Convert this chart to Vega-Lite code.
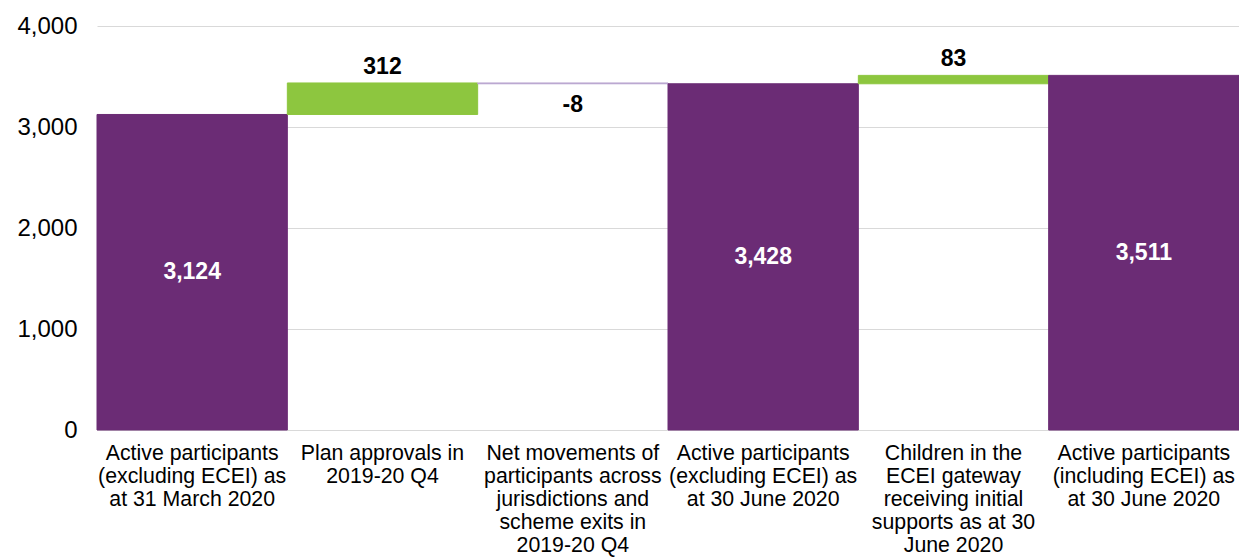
{
  "$schema": "https://vega.github.io/schema/vega-lite/v6.json",
  "autosize": "none",
  "width": 1142,
  "height": 404,
  "padding": {"left": 97, "top": 26, "right": 0, "bottom": 130},
  "background": "white",
  "config": {"view": {"stroke": null}, "font": "Liberation Sans"},
  "data": {"values": [
    {"cat": "Active participants|(excluding ECEI) as|at 31 March 2020", "start": 0, "end": 3124, "value": 3124, "type": "total"},
    {"cat": "Plan approvals in|2019-20 Q4", "start": 3124, "end": 3436, "value": 312, "type": "increase"},
    {"cat": "Net movements of|participants across|jurisdictions and|scheme exits in|2019-20 Q4", "start": 3436, "end": 3428, "value": -8, "type": "decrease"},
    {"cat": "Active participants|(excluding ECEI) as|at 30 June 2020", "start": 0, "end": 3428, "value": 3428, "type": "total"},
    {"cat": "Children in the|ECEI gateway|receiving initial|supports as at 30|June 2020", "start": 3428, "end": 3511, "value": 83, "type": "increase"},
    {"cat": "Active participants|(including ECEI) as|at 30 June 2020", "start": 0, "end": 3511, "value": 3511, "type": "total"}
  ]},
  "transform": [
    {"calculate": "replace(format(datum.value, ',d'), '\u2212', '-')", "as": "lbl"}
  ],
  "encoding": {
    "x": {
      "field": "cat", "type": "nominal", "sort": null,
      "scale": {"paddingInner": 0, "paddingOuter": 0},
      "axis": {
        "title": null, "labelAngle": 0, "labelLimit": 0,
        "labelExpr": "split(datum.label, '|')",
        "labelFontSize": 21.3, "labelLineHeight": 23, "labelColor": "#000000",
        "labelPadding": 12, "ticks": false,
        "domainColor": "#D9D9D9", "domainWidth": 1
      }
    }
  },
  "layer": [
    {
      "mark": {"type": "bar", "strokeWidth": 1},
      "encoding": {
        "y": {
          "field": "start", "type": "quantitative",
          "scale": {"domain": [0, 4000], "nice": false},
          "axis": {
            "title": null, "values": [0, 1000, 2000, 3000, 4000], "format": ",d",
            "domain": false, "ticks": false, "labelPadding": 20,
            "labelFontSize": 24, "labelColor": "#000000",
            "gridColor": "#D9D9D9", "gridWidth": 1
          }
        },
        "y2": {"field": "end"},
        "color": {
          "field": "type", "type": "nominal", "legend": null,
          "scale": {"domain": ["total", "increase", "decrease"], "range": ["#6B2C75", "#8DC63F", "#B9A5D0"]}
        },
        "stroke": {
          "field": "type", "type": "nominal", "legend": null,
          "scale": {"domain": ["total", "increase", "decrease"], "range": ["#6B2C75", "#8DC63F", "#B9A5D0"]}
        }
      }
    },
    {
      "transform": [{"filter": "datum.type === 'total'"}, {"calculate": "datum.end / 2", "as": "mid"}],
      "mark": {"type": "text", "fontWeight": "bold", "fontSize": 23, "color": "white", "baseline": "middle"},
      "encoding": {
        "y": {"field": "mid", "type": "quantitative"},
        "text": {"field": "lbl", "type": "nominal"}
      }
    },
    {
      "transform": [{"filter": "datum.type === 'increase'"}],
      "mark": {"type": "text", "fontWeight": "bold", "fontSize": 23, "color": "black", "baseline": "middle", "dy": -16},
      "encoding": {
        "y": {"field": "end", "type": "quantitative"},
        "text": {"field": "lbl", "type": "nominal"}
      }
    },
    {
      "transform": [{"filter": "datum.type === 'decrease'"}],
      "mark": {"type": "text", "fontWeight": "bold", "fontSize": 23, "color": "black", "baseline": "middle", "dy": 22},
      "encoding": {
        "y": {"field": "start", "type": "quantitative"},
        "text": {"field": "lbl", "type": "nominal"}
      }
    }
  ]
}
